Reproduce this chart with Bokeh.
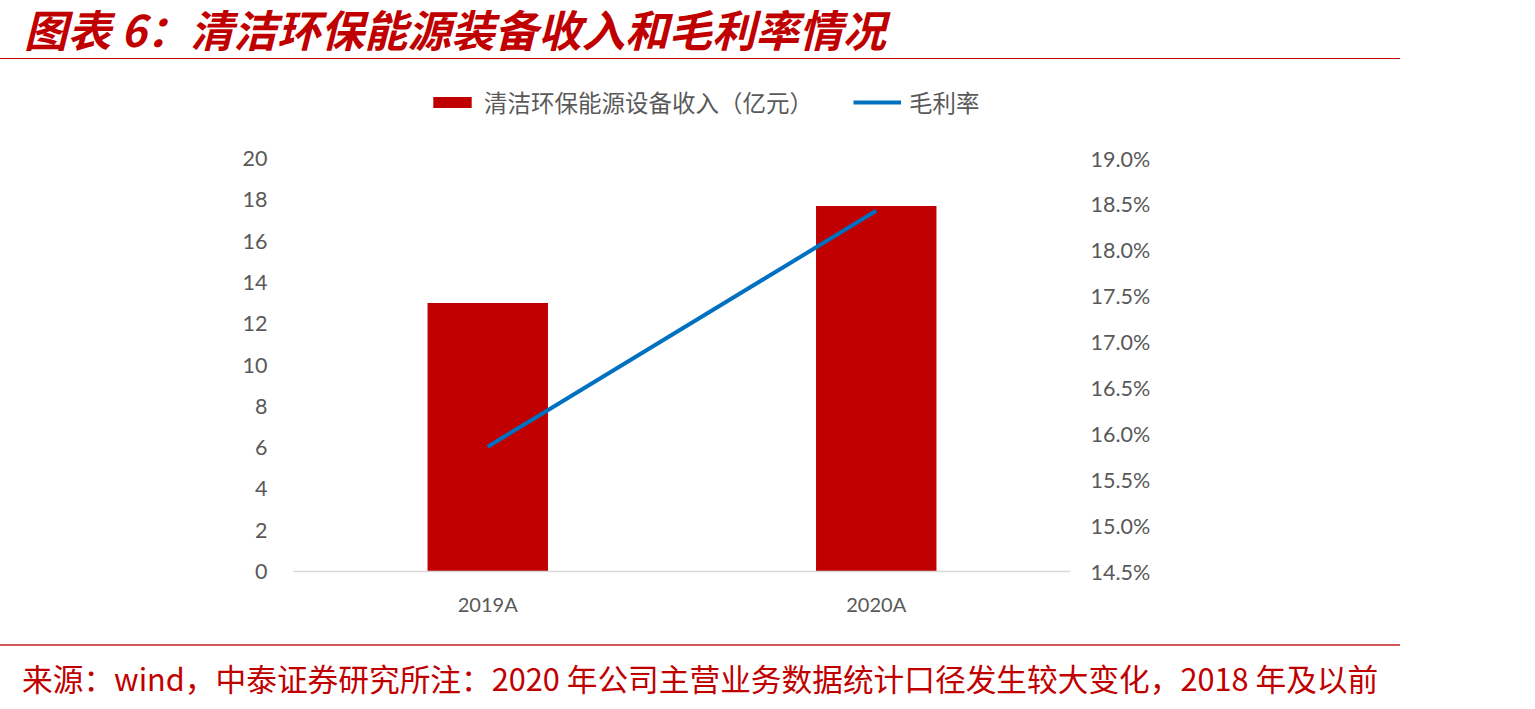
from bokeh.plotting import figure
from bokeh.models import (
    ColumnDataSource, FactorRange, LinearAxis, Range1d, Legend, LegendItem,
    NumeralTickFormatter, FixedTicker, Div
)
from bokeh.layouts import column
from bokeh.embed import file_html
from bokeh.resources import INLINE

# data
years = ["2019A", "2020A"]
revenue = [13.0, 17.7]          # 清洁环保能源设备收入（亿元）
margin = [0.1586, 0.1843]       # 毛利率
left_ticks = [0, 2, 4, 6, 8, 10, 12, 14, 16, 18, 20]
right_ticks = [0.145, 0.150, 0.155, 0.160, 0.165, 0.170, 0.175, 0.180, 0.185, 0.190]

title_text = "图表 6：清洁环保能源装备收入和毛利率情况"
footer_text = "来源：wind，中泰证券研究所注：2020 年公司主营业务数据统计口径发生较大变化，2018 年及以前"
bar_label = "清洁环保能源设备收入（亿元）"
line_label = "毛利率"

RED = "#c00000"
BLUE = "#0070c0"
GREY = "#595959"
W = 1400

# the value axes run 0..20 and 14.5%..19.0% over 413px; the frame is made a
# little taller so the legend can sit above the top tick without being clipped
AXIS_PX = 413
FRAME_PX = 491
scale = FRAME_PX / AXIS_PX

title = Div(
    text=title_text, width=W, height=59, margin=0,
    styles={
        "font-family": "'Noto Sans CJK SC'", "font-size": "43.5px", "font-weight": "bold",
        "font-style": "italic", "color": RED, "line-height": "46px",
        "padding-top": "6px", "padding-left": "24px",
        "border-bottom": "1.5px solid " + RED,
        "box-sizing": "border-box", "white-space": "nowrap",
    },
)

src = ColumnDataSource(dict(year=years, revenue=revenue, margin=margin))

p = figure(
    x_range=FactorRange(*years, range_padding=0),
    y_range=Range1d(0, 20 * scale),
    width=W, height=585, margin=0,
    min_border_left=293, min_border_right=330,
    min_border_top=585 - 73 - FRAME_PX, min_border_bottom=73,
    output_backend="svg", toolbar_location=None, tools="",
)
p.outline_line_color = None
p.grid.grid_line_color = None
p.extra_y_ranges = {"pct": Range1d(0.145, 0.145 + 0.045 * scale)}

bars = p.vbar(x="year", top="revenue", width=0.31, source=src,
              fill_color=RED, line_color=None)
line = p.line(x="year", y="margin", source=src, y_range_name="pct",
              line_color=BLUE, line_width=4)

# left axis
p.yaxis.ticker = FixedTicker(ticks=left_ticks)
p.yaxis.axis_line_color = None
p.yaxis.major_tick_line_color = None
p.yaxis.minor_tick_line_color = None
p.yaxis.major_label_standoff = 20

# right axis
ax2 = LinearAxis(y_range_name="pct", ticker=FixedTicker(ticks=right_ticks),
                 formatter=NumeralTickFormatter(format="0.0%"))
ax2.axis_line_color = None
ax2.major_tick_line_color = None
ax2.minor_tick_line_color = None
ax2.major_label_standoff = 14
p.add_layout(ax2, "right")

p.xaxis.axis_line_color = "#d9d9d9"
p.xaxis.axis_line_width = 1.5
p.xaxis.major_tick_line_color = None
p.xaxis.major_label_standoff = 14

for ax in [p.yaxis[0], ax2]:
    ax.major_label_text_font = "Lato"
    ax.major_label_text_font_size = "21.5px"
    ax.major_label_text_color = GREY
p.xaxis.major_label_text_font = "Lato"
p.xaxis.major_label_text_font_size = "20px"
p.xaxis.major_label_text_color = GREY

legend = Legend(
    items=[LegendItem(label=bar_label, renderers=[bars]),
           LegendItem(label=line_label, renderers=[line])],
    orientation="horizontal", location=(135, 452),
    padding=0, margin=0, spacing=40, label_standoff=8,
    glyph_width=48, glyph_height=14,
    label_text_font="Noto Sans CJK SC", label_text_font_size="23.5px",
    label_text_color=GREY, border_line_color=None, background_fill_alpha=0,
)
p.add_layout(legend)

footer = Div(
    text=footer_text, width=W, height=62, margin=0,
    styles={
        "font-family": "'Noto Sans CJK SC'", "font-size": "30.7px", "color": RED,
        "line-height": "36px", "padding-top": "14px", "padding-left": "22px",
        "border-top": "2px solid #d05a5a", "box-sizing": "border-box",
        "white-space": "nowrap",
    },
)

layout = column(title, p, footer, spacing=0)

open("out.html", "w").write(file_html(layout, INLINE))
